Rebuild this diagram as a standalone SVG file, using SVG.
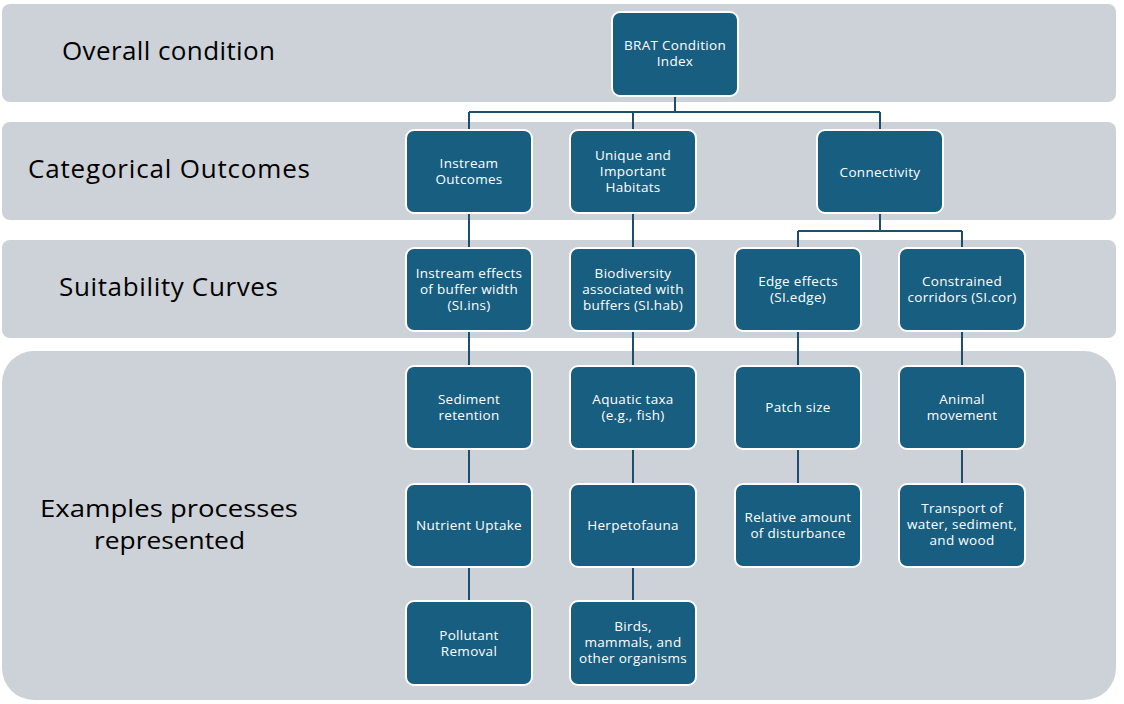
<svg xmlns="http://www.w3.org/2000/svg" width="1124" height="704" viewBox="0 0 1124 704">
<style>
.band{fill:#cdd1d8}
.node rect{fill:#175e80;stroke:#ffffff;stroke-width:2}
.node text{fill:#ffffff;font-family:"Open Sans","Liberation Sans",sans-serif;font-size:13.5px;letter-spacing:0.3px;text-anchor:middle}
.lbl{fill:#000000;font-family:"Open Sans","Liberation Sans",sans-serif;font-size:26px}
.lbl2{fill:#000000;font-family:"Open Sans","Liberation Sans",sans-serif;font-size:23px}
.conn{stroke:#1b4f6b;stroke-width:2;fill:none}
</style>
<rect width="1124" height="704" fill="#ffffff"/>
<g id="bands">
<rect class="band" x="2" y="4" width="1114" height="98" rx="8"/>
<rect class="band" x="2" y="122" width="1114" height="98" rx="8"/>
<rect class="band" x="2" y="240" width="1114" height="98" rx="8"/>
<rect class="band" x="2" y="351" width="1114" height="349" rx="32"/>
</g>
<g id="labels">
<text class="lbl" x="62" y="60" textLength="213" lengthAdjust="spacing">Overall condition</text>
<text class="lbl" x="28" y="178" textLength="282" lengthAdjust="spacing">Categorical Outcomes</text>
<text class="lbl" x="59" y="296" textLength="219" lengthAdjust="spacing">Suitability Curves</text>
<text class="lbl2" x="40" y="517" textLength="258" lengthAdjust="spacingAndGlyphs">Examples processes</text>
<text class="lbl2" x="94" y="549" textLength="151" lengthAdjust="spacingAndGlyphs">represented</text>
</g>
<g id="connectors">
<path class="conn" d="M675 96V112M469 112H880M469 112V130M633 112V130M880 112V130"/>
<path class="conn" d="M880 213V231M798 231H962M798 231V248M962 231V248"/>
<path class="conn" d="M469 213V248M633 213V248"/>
<path class="conn" d="M469 331V366M633 331V366M798 331V366M962 331V366"/>
<path class="conn" d="M469 449V484M633 449V484M798 449V484M962 449V484"/>
<path class="conn" d="M469 567V601M633 567V601"/>
</g>
<g id="n-brat" class="node"><rect x="612" y="12" width="126" height="84" rx="8"/><text x="675" y="50">BRAT Condition</text><text x="675" y="66">Index</text></g>
<g id="n-instream" class="node"><rect x="406" y="130" width="126" height="83" rx="8"/><text x="469" y="168">Instream</text><text x="469" y="184">Outcomes</text></g>
<g id="n-unique" class="node"><rect x="570" y="130" width="126" height="83" rx="8"/><text x="633" y="160">Unique and</text><text x="633" y="176">Important</text><text x="633" y="192">Habitats</text></g>
<g id="n-conn" class="node"><rect x="817" y="130" width="126" height="83" rx="8"/><text x="880" y="177">Connectivity</text></g>
<g id="n-siins" class="node"><rect x="406" y="248" width="126" height="83" rx="8"/><text x="469" y="278">Instream effects</text><text x="469" y="294">of buffer width</text><text x="469" y="310">(SI.ins)</text></g>
<g id="n-sihab" class="node"><rect x="570" y="248" width="126" height="83" rx="8"/><text x="633" y="278">Biodiversity</text><text x="633" y="294">associated with</text><text x="633" y="310">buffers (SI.hab)</text></g>
<g id="n-siedge" class="node"><rect x="735" y="248" width="126" height="83" rx="8"/><text x="798" y="286">Edge effects</text><text x="798" y="302">(SI.edge)</text></g>
<g id="n-sicor" class="node"><rect x="899" y="248" width="126" height="83" rx="8"/><text x="962" y="286">Constrained</text><text x="962" y="302">corridors (SI.cor)</text></g>
<g id="n-sed" class="node"><rect x="406" y="366" width="126" height="83" rx="8"/><text x="469" y="404">Sediment</text><text x="469" y="420">retention</text></g>
<g id="n-aq" class="node"><rect x="570" y="366" width="126" height="83" rx="8"/><text x="633" y="404">Aquatic taxa</text><text x="633" y="420">(e.g., fish)</text></g>
<g id="n-patch" class="node"><rect x="735" y="366" width="126" height="83" rx="8"/><text x="798" y="412">Patch size</text></g>
<g id="n-anim" class="node"><rect x="899" y="366" width="126" height="83" rx="8"/><text x="962" y="404">Animal</text><text x="962" y="420">movement</text></g>
<g id="n-nut" class="node"><rect x="406" y="484" width="126" height="83" rx="8"/><text x="469" y="530">Nutrient Uptake</text></g>
<g id="n-herp" class="node"><rect x="570" y="484" width="126" height="83" rx="8"/><text x="633" y="530">Herpetofauna</text></g>
<g id="n-dist" class="node"><rect x="735" y="484" width="126" height="83" rx="8"/><text x="798" y="522">Relative amount</text><text x="798" y="538">of disturbance</text></g>
<g id="n-trans" class="node"><rect x="899" y="484" width="126" height="83" rx="8"/><text x="962" y="513">Transport of</text><text x="962" y="529">water, sediment,</text><text x="962" y="545">and wood</text></g>
<g id="n-poll" class="node"><rect x="406" y="601" width="126" height="84" rx="8"/><text x="469" y="640">Pollutant</text><text x="469" y="656">Removal</text></g>
<g id="n-birds" class="node"><rect x="570" y="601" width="126" height="84" rx="8"/><text x="633" y="631">Birds,</text><text x="633" y="647">mammals, and</text><text x="633" y="663">other organisms</text></g>
</svg>
